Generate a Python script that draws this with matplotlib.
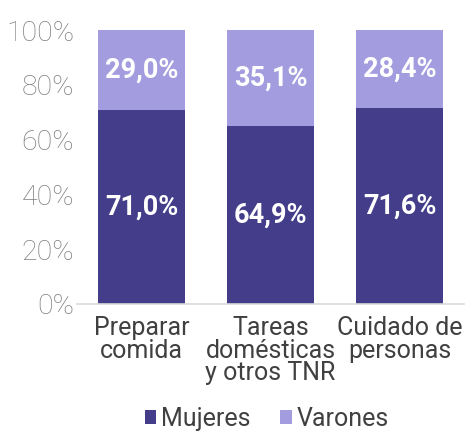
import matplotlib.pyplot as plt
import numpy as np

categorias = ["Preparar\ncomida", "Tareas\ndomésticas\ny otros TNR", "Cuidado de\npersonas"]
mujeres = [71.0, 64.9, 71.6]
varones = [29.0, 35.1, 28.4]
ticks = [0, 20, 40, 60, 80, 100]

c_muj = "#433d8a"
c_var = "#a39ddf"

plt.rcParams['font.family'] = ['Roboto', 'DejaVu Sans']

fig = plt.figure(figsize=(4.68, 4.32), dpi=100)
ax = fig.add_axes([0.1645, 0.2963, 0.827, 0.634])

x = np.arange(len(categorias))
b1 = ax.bar(x, mujeres, width=0.675, color=c_muj, label="Mujeres")
b2 = ax.bar(x, varones, width=0.675, bottom=mujeres, color=c_var, label="Varones")

for i in range(len(x)):
    ax.text(x[i], mujeres[i] / 2, f"{mujeres[i]:.1f}%".replace(".", ","),
            ha="center", va="center", color="white", fontsize=19.5, fontweight="bold")
    ax.text(x[i], mujeres[i] + varones[i] / 2, f"{varones[i]:.1f}%".replace(".", ","),
            ha="center", va="center", color="white", fontsize=19.5, fontweight="bold")

ax.set_xlim(-0.5, 2.5)
ax.set_ylim(0, 100)
ax.set_yticks(ticks)
ax.set_yticklabels([f"{t}%" for t in ticks], fontsize=20.5, color="#7f7f7f", fontweight="light")
ax.set_xticks(x)
ax.set_xticklabels(categorias, fontsize=18, color="#404040", linespacing=0.92)
ax.tick_params(axis="both", length=0, pad=2)
ax.tick_params(axis="x", pad=9)

for s in ["top", "right", "left"]:
    ax.spines[s].set_visible(False)
ax.spines["bottom"].set_color("#d9d9d9")
ax.spines["bottom"].set_linewidth(1.2)

fig.legend(handles=[b1, b2], loc="center", bbox_to_anchor=(0.57, 0.03), ncol=2,
           frameon=False, fontsize=18, handlelength=0.45, handleheight=0.45,
           handletextpad=0.2, columnspacing=1.2, labelcolor="#404040")

fig.savefig("out.png", dpi=100)
